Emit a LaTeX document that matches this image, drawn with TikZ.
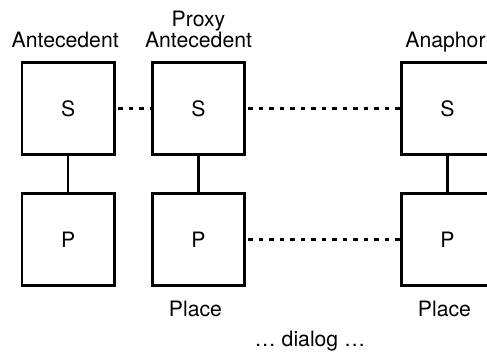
\documentclass[tikz,border=0pt]{standalone}
\usepackage{fontspec}
\setmainfont{TeX Gyre Heros}
\usetikzlibrary{positioning}
\begin{document}
\begin{tikzpicture}[x=1pt,y=-1pt,
  cell/.style={draw,line width=2.7pt,minimum size=92.3pt,inner sep=0pt,font=\fontsize{21.2}{20}\selectfont},
  tag/.style={inner sep=0pt,text depth=0pt,align=center,font=\fontsize{21.2}{20}\selectfont},
  dots/.style={line width=2.7pt,dash pattern=on 4.5pt off 6pt,dash phase=8.2pt},
  link/.style={line width=2.5pt}]
\useasboundingbox (0,0) rectangle (487,353);
\clip (0,0) rectangle (487,353);
% sentence row and place row
\node[cell] (s1) at (68.2,108.5) {S};
\node[cell] (s2) at (198.5,108.5) {S};
\node[cell] (s3) at (447.5,108.5) {S};
\node[cell] (p1) at (68.2,239.5) {P};
\node[cell] (p2) at (198.5,239.5) {P};
\node[cell] (p3) at (447.5,239.5) {P};
\draw[link] (s1) -- (p1);
\draw[link] (s2) -- (p2);
\draw[link] (s3) -- (p3);
\draw[dots] (s1) -- (s2);
\draw[dots] (s2) -- (s3);
\draw[dots] (p2) -- (p3);
% labels
\node[tag, above=12.8pt of s1, xshift=-3pt] (lant) {Antecedent};
\node[tag, above=12.8pt of s2] (lprx) {Proxy\\Antecedent};
\node[tag, above=12.8pt of s3, xshift=-2pt] (lana) {Anaphor};
\node[tag, below=13.6pt of p2, xshift=-3pt] (lpl2) {Place};
\node[tag, below=13.6pt of p3, xshift=-3pt] (lpl3) {Place};
\node[tag, anchor=base] (ldlg) at (310,346) {… dialog …};
\end{tikzpicture}
\end{document}
